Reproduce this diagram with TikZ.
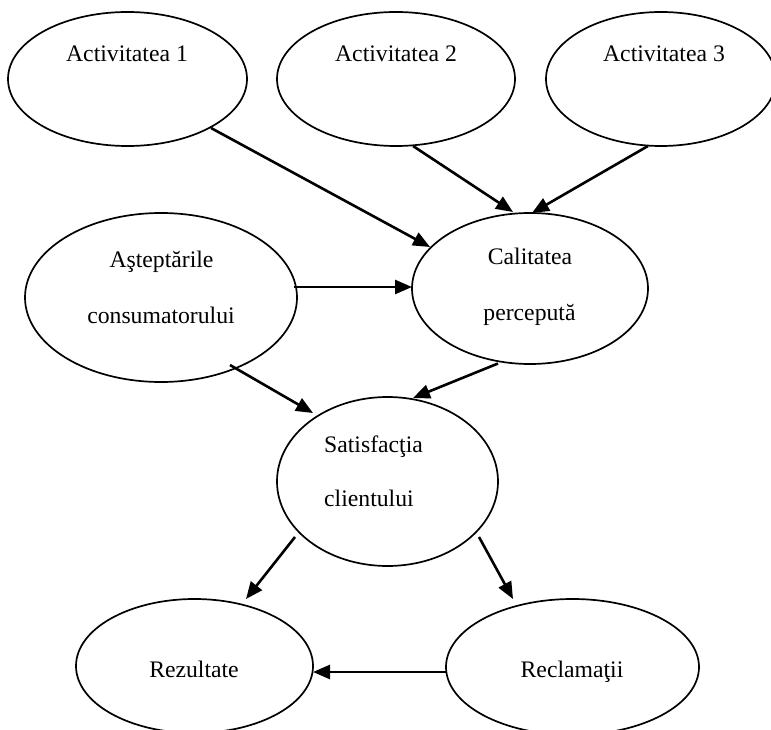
\documentclass[tikz,border=0pt]{standalone}
\usepackage{fontspec}
\setmainfont{Liberation Serif}
\usetikzlibrary{shapes.geometric,arrows.meta}
\begin{document}
\begin{tikzpicture}[x=1pt,y=-1pt,
  ell/.style={draw,ellipse,line width=1.7pt,inner sep=0pt,outer sep=0pt},
  lbl/.style={inner sep=0pt,anchor=base,font=\fontsize{23.7}{28}\selectfont},
  arr/.style={line width=2.6pt,-{Triangle[length=17pt,width=14pt]}}]
\useasboundingbox (0,0) rectangle (771,730);
% ellipses
\node[ell,minimum width=239pt,minimum height=134pt] (a1) at (127.5,79) {};
\node[ell,minimum width=238pt,minimum height=134pt] (a2) at (396,79) {};
\node[ell,minimum width=230pt,minimum height=134pt] (a3) at (661,79) {};
\node[ell,minimum width=272pt,minimum height=169pt] (ast) at (161,297.5) {};
\node[ell,minimum width=236pt,minimum height=151pt] (cal) at (530,288.5) {};
\node[ell,minimum width=221pt,minimum height=169pt] (sat) at (387.5,481.5) {};
\node[ell,minimum width=237pt,minimum height=134pt] (rez) at (194.5,666) {};
\node[ell,minimum width=253pt,minimum height=136pt] (recl) at (572.5,667) {};
% texts
\node[lbl] (ta1) at (127,62) {Activitatea 1};
\node[lbl] (ta2) at (396,62) {Activitatea 2};
\node[lbl] (ta3) at (664,62) {Activitatea 3};
\node[lbl] (tas1) at (161.5,267) {Aşteptările};
\node[lbl] (tas2) at (161,323) {consumatorului};
\node[lbl] (tc1) at (530,265) {Calitatea};
\node[lbl] (tc2) at (529.5,320) {percepută};
\node[lbl,anchor=base west] (ts1) at (324,452) {Satisfacţia};
\node[lbl,anchor=base west] (ts2) at (324,506) {clientului};
\node[lbl] (tr) at (194,677) {Rezultate};
\node[lbl] (tre) at (572,677) {Reclamaţii};
% connectors
\draw[arr] ([shift={(83.5,49)}]a1.center) -- ([shift={(-100,-41.5)}]cal.center);
\draw[arr] ([shift={(17,67)}]a2.center) -- ([shift={(-17,-76.5)}]cal.center);
\draw[arr] ([shift={(-13,67)}]a3.center) -- ([shift={(2,-75.5)}]cal.center);
\draw[arr] ([shift={(133,-10.5)}]ast.center) -- ([shift={(-118,-1.5)}]cal.center);
\draw[arr] ([shift={(69,67.5)}]ast.center) -- ([shift={(-74.5,-68.5)}]sat.center);
\draw[arr] ([shift={(-32,75)}]cal.center) -- ([shift={(25.5,-83.5)}]sat.center);
\draw[arr] ([shift={(-92.5,55.5)}]sat.center) -- ([shift={(51.5,-67)}]rez.center);
\draw[arr] ([shift={(91.5,55.5)}]sat.center) -- ([shift={(-59.5,-68)}]recl.center);
\draw[arr] ([shift={(-126.5,5)}]recl.center) -- ([shift={(118.5,6)}]rez.center);
\end{tikzpicture}
\end{document}
